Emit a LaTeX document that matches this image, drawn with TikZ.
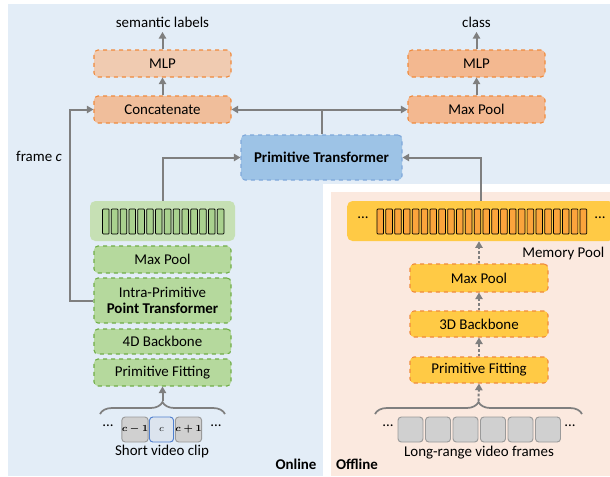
\documentclass[tikz,border=0pt]{standalone}
\usepackage{fontspec}
\setmainfont{Carlito}
\usepackage{amsmath}
\usepackage{xcolor}
\usepackage{tikz}
\usetikzlibrary{calc,arrows.meta,decorations.pathreplacing}
\definecolor{bgblue}{HTML}{E3EDF7}
\definecolor{bgpink}{HTML}{FBE9DF}
\definecolor{orline}{HTML}{F08A3C}
\definecolor{orlight}{HTML}{F0CBB1}
\definecolor{ormid}{HTML}{F0BE9B}
\definecolor{ordeep}{HTML}{F3B890}
\definecolor{ptblue}{HTML}{9DC3E6}
\definecolor{ptline}{HTML}{7FA8DA}
\definecolor{grfill}{HTML}{B5D99D}
\definecolor{grline}{HTML}{70AD47}
\definecolor{grfeat}{HTML}{C6E0B4}
\definecolor{grbar}{HTML}{A9D18E}
\definecolor{yefill}{HTML}{FFCA45}
\definecolor{yebar}{HTML}{FBA43C}
\definecolor{frgray}{HTML}{D0D0D0}
\definecolor{frline}{HTML}{9A9A9A}
\definecolor{cfill}{HTML}{DCE4EE}
\definecolor{cline}{HTML}{4F7FCF}
\definecolor{conn}{HTML}{7F7F7F}
\tikzset{
  blk/.style={rounded corners=3pt, dashed, line width=0.8pt, inner sep=0pt,
    minimum width=102.75pt, minimum height=20.25pt, align=center},
  orblk/.style={blk, draw=orline, fill=ordeep},
  grblk/.style={blk, draw=grline, fill=grfill},
  yeblk/.style={blk, draw=orline, fill=yefill, minimum width=103.5pt},
  arr/.style={draw=conn, line width=1.5pt, -{Triangle[length=5pt,width=5.5pt]}},
  dotarr/.style={arr, dash pattern=on 2pt off 1.5pt},
  bracepath/.style={draw=conn, line width=1.3pt, decorate,
    decoration={brace, amplitude=9pt}},
  frame/.style={rounded corners=2.5pt, draw=frline, fill=frgray, line width=0.7pt,
    minimum width=18.75pt, minimum height=18.75pt, inner sep=0pt, font=\scriptsize},
  bar/.style={draw=black, line width=0.55pt, rounded corners=0.6pt},
}
\newcommand{\featbars}[4]{
\foreach \i in {1,...,#3}{
  \filldraw[bar, fill=#4] ({#1+(\i-1)*8.83},#2) rectangle ++(6.6,25);
}
}
\begin{document}
\begin{tikzpicture}[x=0.75pt, y=-0.75pt, font=\fontsize{11.2}{13}\selectfont]
\useasboundingbox (0,0) rectangle (610,476);
\fill[bgblue] (8,4) rectangle (610,476);
\fill[white] (323,184) rectangle (610,476);
\fill[bgpink] (331,192) rectangle (610,476);

\node (semlab) at (162.5,22) {semantic labels};
\node[orblk, fill=orlight] (mlpL) at (162.5,63.5) {MLP};
\node[orblk, fill=ormid] (concat) at (162.5,109.5) {Concatenate};
\node (classlab) at (476.5,22) {class};
\node[orblk] (mlpR) at (476.5,63.5) {MLP};
\node[orblk] (mpoolR) at (476.5,109.5) {Max Pool};
\node[blk, draw=ptline, fill=ptblue, minimum width=120.75pt, minimum height=33.75pt,
  font=\fontsize{11.2}{13}\selectfont\bfseries] (ptrans) at (321.5,157.5) {Primitive Transformer};

\node[rounded corners=4pt, fill=grfeat, minimum width=108.75pt, minimum height=30pt] (featL) at (162.5,221) {};
\featbars{102.5}{209}{14}{grbar}
\node[grblk] (mpoolL) at (162.5,259.5) {Max Pool};
\node[grblk, minimum height=33.75pt] (intra) at (162.5,300.5) {Intra-Primitive\\[-1pt]\textbf{Point Transformer}};
\node[grblk, minimum height=18.75pt] (bb4d) at (162.5,341.5) {4D Backbone};
\node[grblk] (fitL) at (162.5,372.5) {Primitive Fitting};
\node (framelab) at (39,156) {frame \textit{c}};

\node[frame] (fprev) at (135,429.5) {$\boldsymbol{c-1}$};
\node[frame, fill=cfill, draw=cline, minimum width=18pt] (fcur) at (161.5,429.5) {$c$};
\node[frame] (fnext) at (188.5,429.5) {$\boldsymbol{c+1}$};
\node (dotsL1) at (108,426) {...};
\node (dotsL2) at (216,426) {...};
\node (shortlab) at (162,452) {Short video clip};
\coordinate (braceL1) at (100,414);
\coordinate (braceL2) at (225,414);
\coordinate (tipL) at (162.5,401);
\node[font=\fontsize{11.2}{13}\selectfont\bfseries] (online) at (296,464) {Online};

\node[rounded corners=4pt, fill=yefill, minimum width=200pt, minimum height=30pt] (memory) at (480.5,221) {};
\featbars{377}{209}{24}{yebar}
\node (dotsM1) at (363,218) {...};
\node (dotsM2) at (600,218) {...};
\node[anchor=east] (memlab) at (609,254) {Memory Pool};
\node[yeblk, minimum height=21pt] (mpoolO) at (479,278) {Max Pool};
\node[yeblk, minimum height=19.5pt] (bb3d) at (479,324) {3D Backbone};
\node[yeblk, minimum height=19.5pt] (fitO) at (479,370) {Primitive Fitting};
\foreach \k in {0,...,5}{
  \node[frame] (g\k) at ({410.5+\k*27.5},429.5) {};
}
\node (dotsR1) at (388,426) {...};
\node (dotsR2) at (570,426) {...};
\node (longlab) at (479,453) {Long-range video frames};
\coordinate (braceR1) at (375,414);
\coordinate (braceR2) at (582,414);
\coordinate (tipR) at (478.5,401);
\node[font=\fontsize{11.2}{13}\selectfont\bfseries] (offline) at (357,464) {Offline};

\draw[arr] (concat) -- (mlpL);
\draw[arr] (mlpL) -- (semlab);
\draw[arr] (mpoolR) -- (mlpR);
\draw[arr] (mlpR) -- (classlab);
\draw[arr] (ptrans.north) |- (concat.east);
\draw[arr] (ptrans.north) |- (mpoolR.west);
\draw[arr] (featL.north) |- (ptrans.west);
\draw[arr] (memory.north) |- (ptrans.east);
\coordinate (skip) at (70,300.5);
\draw[arr] (intra.west) -- (skip) |- (concat.west);
\draw[bracepath] (braceL1) -- (braceL2);
\draw[arr] (tipL) -- (fitL.south);
\draw[bracepath] (braceR1) -- (braceR2);
\draw[dotarr] (tipR) -- (fitO.south);
\draw[dotarr] (fitO) -- (bb3d);
\draw[dotarr] (bb3d) -- (mpoolO);
\draw[dotarr] (mpoolO.north) -- (mpoolO.north |- memory.south);
\end{tikzpicture}
\end{document}
